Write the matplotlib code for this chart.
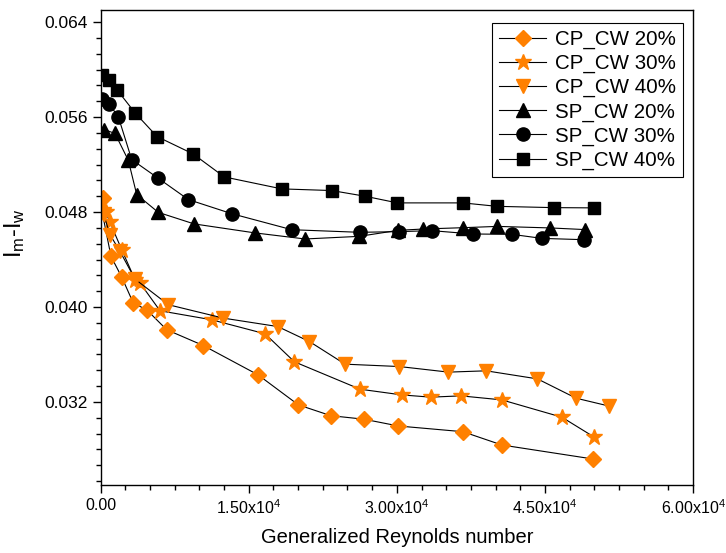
import matplotlib.pyplot as plt
from matplotlib.ticker import MultipleLocator, AutoMinorLocator, FuncFormatter

plt.rcParams['font.family'] = ['Liberation Sans', 'DejaVu Sans']
plt.rcParams['mathtext.fontset'] = 'custom'
plt.rcParams['mathtext.rm'] = 'Liberation Sans'
plt.rcParams['mathtext.it'] = 'Liberation Sans'

# Data
cp20_x = [264, 100, 1044, 2128, 3304, 4662, 6689, 10398, 15942, 20027, 23311, 26686, 30162, 36689, 40642, 49865]
cp20_y = [0.04919, 0.04820, 0.04426, 0.04252, 0.04033, 0.03976, 0.03808, 0.03675, 0.03428, 0.03175,
          0.03084, 0.03054, 0.02997, 0.02949, 0.02837, 0.02719]

cp30_x = [500, 943, 2128, 3476, 3983, 6010, 11250, 16652, 19622, 26280, 30506, 33445, 36486, 40642, 46723, 49926]
cp30_y = [0.04800, 0.04713, 0.04483, 0.04230, 0.04202, 0.03968, 0.03892, 0.03774, 0.03538, 0.03307,
          0.03259, 0.03240, 0.03251, 0.03217, 0.03071, 0.02907]

cp40_x = [300, 943, 1956, 3476, 6851, 12425, 17939, 21141, 24760, 30263, 35229, 39050, 44249, 48172, 51445]
cp40_y = [0.04780, 0.04609, 0.04468, 0.04235, 0.04019, 0.03906, 0.03835, 0.03709, 0.03518, 0.03498,
          0.03451, 0.03462, 0.03394, 0.03231, 0.03166]

sp20_x = [365, 1449, 2797, 3649, 5838, 9456, 15638, 20706, 26179, 30162, 32696, 36689, 40196, 45537, 49084]
sp20_y = [0.05495, 0.05462, 0.05236, 0.04947, 0.04797, 0.04700, 0.04624, 0.04573, 0.04595, 0.04646,
          0.04657, 0.04668, 0.04679, 0.04666, 0.04652]

sp30_x = [101, 841, 1784, 3142, 5838, 8878, 13277, 19358, 26280, 30263, 33547, 37702, 41655, 44695, 48911]
sp30_y = [0.05754, 0.05712, 0.05603, 0.05242, 0.05084, 0.04905, 0.04786, 0.04651, 0.04629, 0.04635,
          0.04643, 0.04615, 0.04612, 0.04578, 0.04567]

sp40_x = [101, 841, 1682, 3476, 5706, 9355, 12514, 18344, 23412, 26787, 30060, 36689, 40135, 45942, 49996]
sp40_y = [0.05951, 0.05911, 0.05827, 0.05636, 0.05436, 0.05290, 0.05096, 0.04995, 0.04981, 0.04933,
          0.04877, 0.04877, 0.04848, 0.04837, 0.04835]

orange = '#FF8000'

fig = plt.figure(figsize=(7.26, 5.53), dpi=100)
ax = fig.add_axes([0.1387, 0.123, 0.8158, 0.8584])

series = [
    (cp20_x, cp20_y, 'D', orange, 8.0, 'CP_CW 20%'),
    (cp30_x, cp30_y, '*', orange, 12.0, 'CP_CW 30%'),
    (cp40_x, cp40_y, 'v', orange, 10.5, 'CP_CW 40%'),
    (sp20_x, sp20_y, '^', 'black', 9.5, 'SP_CW 20%'),
    (sp30_x, sp30_y, 'o', 'black', 9.5, 'SP_CW 30%'),
    (sp40_x, sp40_y, 's', 'black', 9.0, 'SP_CW 40%'),
]
for xs, ys, m, c, ms, lab in series:
    ax.plot(xs, ys, color='black', lw=0.8, marker=m, ms=ms, mfc=c, mec=c, label=lab)

ax.set_xlim(0, 60000)
ax.set_ylim(0.0250, 0.0650)
ax.xaxis.set_major_locator(MultipleLocator(15000))
ax.xaxis.set_minor_locator(AutoMinorLocator(6))
ax.yaxis.set_major_locator(MultipleLocator(0.008))
ax.yaxis.set_minor_locator(AutoMinorLocator(6))


def xfmt(v, pos):
    if v == 0:
        return '0.00'
    return '%.2fx10$^{\\mathregular{4}}$' % (v / 1e4)


ax.xaxis.set_major_formatter(FuncFormatter(xfmt))
ax.yaxis.set_major_formatter(FuncFormatter(lambda v, p: '%.3f' % v))

ax.tick_params(which='both', direction='out', top=False, right=False, width=1)
ax.tick_params(axis='y', labelsize=12.5)
ax.tick_params(axis='x', labelsize=11.5)
ax.tick_params(which='major', length=6)
ax.tick_params(which='minor', length=3.6)
for s in ax.spines.values():
    s.set_linewidth(1.0)

ax.set_xlabel('Generalized Reynolds number', fontsize=14.5, labelpad=8)
ax.set_ylabel('I$_{\\mathregular{m}}$-I$_{\\mathregular{w}}$', fontsize=17, labelpad=6)
ax.yaxis.set_label_coords(-0.125, 0.53)

leg = ax.legend(loc='upper right', bbox_to_anchor=(0.983, 0.974), borderaxespad=0,
                fontsize=14.8, fancybox=False, edgecolor='black', framealpha=1,
                handlelength=2.3, labelspacing=0.24, borderpad=0.35, handletextpad=0.4)
leg.get_frame().set_linewidth(0.8)

fig.savefig('out.png', dpi=100)
